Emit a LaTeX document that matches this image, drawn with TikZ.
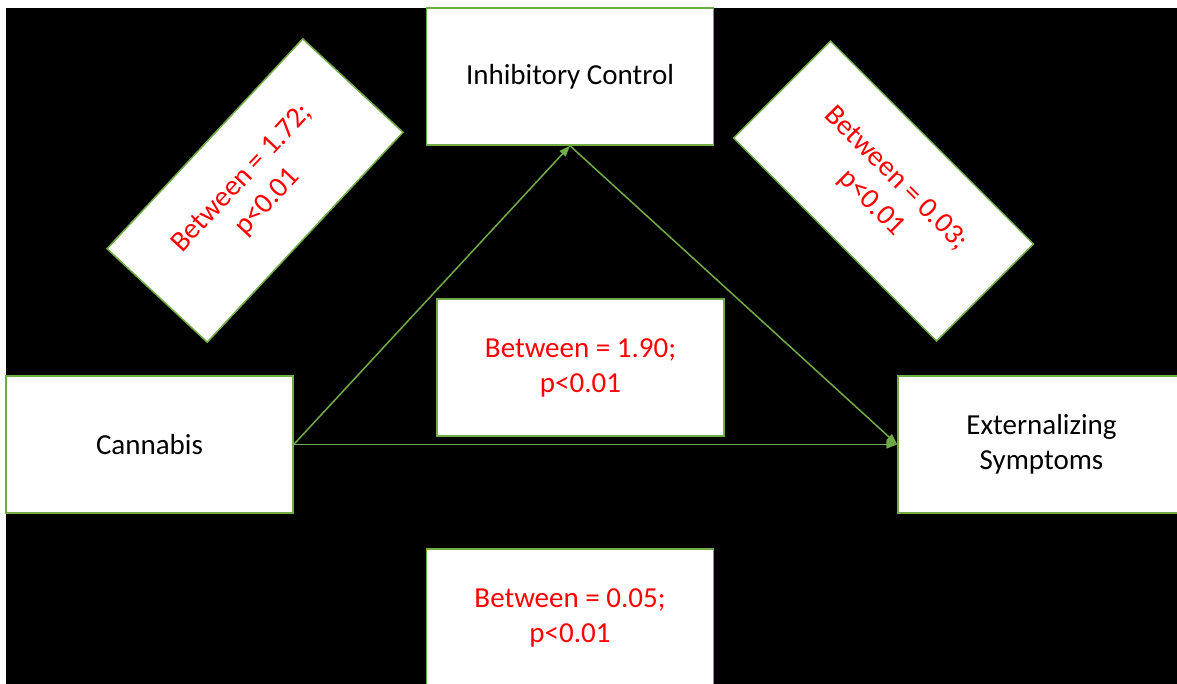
\documentclass[tikz,border=0pt]{standalone}
\usepackage{fontspec}
\setmainfont{Carlito}
\usetikzlibrary{arrows.meta}
\definecolor{pathgreen}{RGB}{112,173,71}
\definecolor{statred}{RGB}{255,0,0}

\begin{document}
\begin{tikzpicture}[
    x=1pt, y=-1pt,
    box/.style={draw=pathgreen, line width=1.5pt, fill=white, minimum width=287pt, minimum height=137pt, align=center, inner sep=0pt, font=\fontsize{29}{35}\selectfont},
    stat/.style={box, text=statred},
    arrow/.style={-{Triangle[length=11pt, width=8pt]}, line width=1.5pt, draw=pathgreen}
]
\useasboundingbox (0,0) rectangle (1177,684);
\clip (0,0) rectangle (1177,684);
\fill[white] (0,0) rectangle (1177,684);
\fill[black] (6,8) rectangle (1177,684);

% Variables
\node[box] (inhib) at (570,76.5) {Inhibitory Control};
\node[box] (cannabis) at (149.5,444.5) {Cannabis};
\node[box] (extern) at (1041.5,444.5) {Externalizing\\Symptoms};

% Path estimates
\node[stat, rotate=47] (pathA) at (255,190.5) {Between = 1.72;\\p<0.01};
\node[stat, rotate=-45] (pathB) at (883.5,191) {Between = 0.03;\\p<0.01};
\node[stat] (pathC) at (580.5,367.5) {Between = 1.90;\\p<0.01};
\node[stat] (pathD) at (570,617.5) {Between = 0.05;\\p<0.01};

% Arrows
\draw[arrow] (cannabis.east) -- (inhib.south);
\draw[arrow] (inhib.south) -- (extern.west);
\draw[arrow] (cannabis.east) -- (extern.west);

\end{tikzpicture}
\end{document}
